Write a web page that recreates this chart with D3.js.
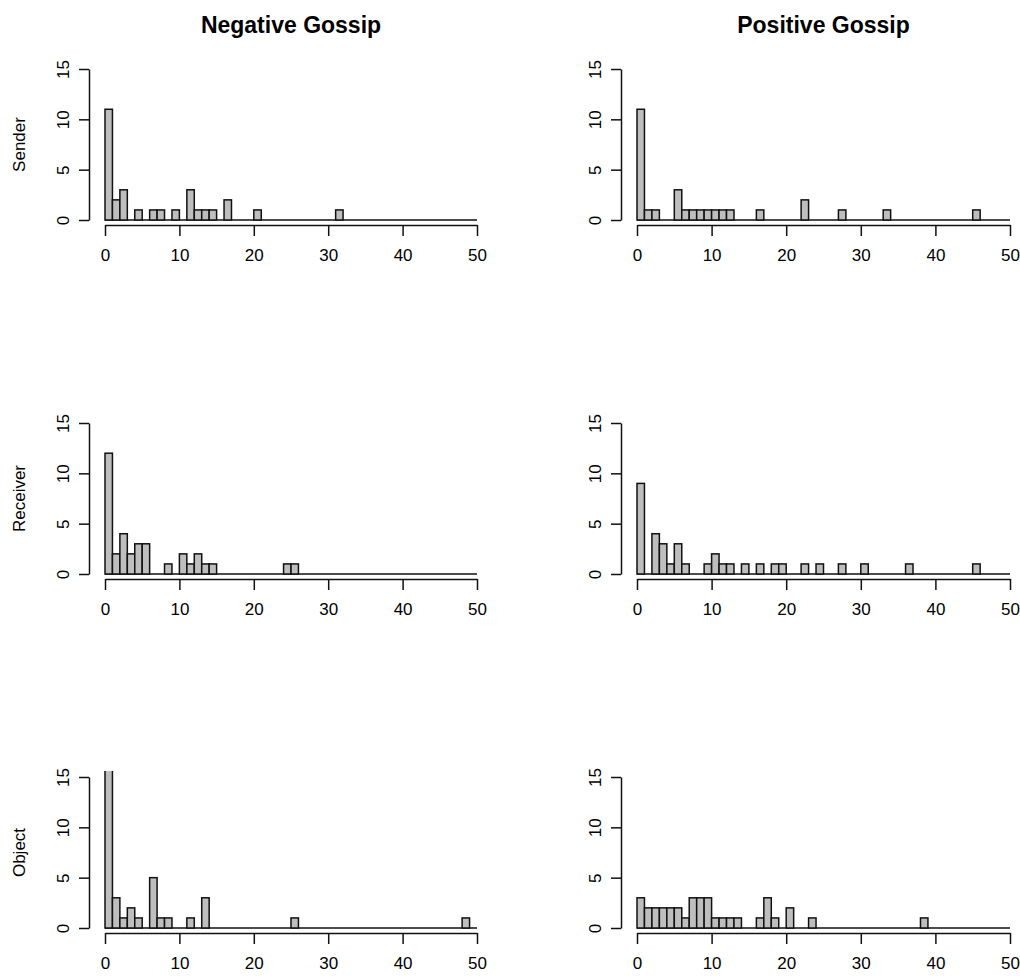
<!DOCTYPE html>
<html lang="en">
<head>
    <meta charset="UTF-8">
    <title>Gossip histograms</title>
    <script src="https://cdn.jsdelivr.net/npm/d3@7"></script>
    <style>
        body { margin: 0; background: #fff; }
        text { font-family: "Liberation Sans", Arial, sans-serif; fill: #000; }
    </style>
</head>
<body>
<script>
    // column titles, row labels, ticks
    var columns = ["Negative Gossip", "Positive Gossip"];
    var rows = ["Sender", "Receiver", "Object"];
    var xTicks = [0, 10, 20, 30, 40, 50];
    var yTicks = [0, 5, 10, 15];

    // histogram counts: bin start (width 1) and count
    var negSenderBins = [0, 1, 2, 4, 6, 7, 9, 11, 12, 13, 14, 16, 20, 31];
    var negSenderCounts = [11, 2, 3, 1, 1, 1, 1, 3, 1, 1, 1, 2, 1, 1];
    var posSenderBins = [0, 1, 2, 5, 6, 7, 8, 9, 10, 11, 12, 16, 22, 27, 33, 45];
    var posSenderCounts = [11, 1, 1, 3, 1, 1, 1, 1, 1, 1, 1, 1, 2, 1, 1, 1];
    var negReceiverBins = [0, 1, 2, 3, 4, 5, 8, 10, 11, 12, 13, 14, 24, 25];
    var negReceiverCounts = [12, 2, 4, 2, 3, 3, 1, 2, 1, 2, 1, 1, 1, 1];
    var posReceiverBins = [0, 2, 3, 4, 5, 6, 9, 10, 11, 12, 14, 16, 18, 19, 22, 24, 27, 30, 36, 45];
    var posReceiverCounts = [9, 4, 3, 1, 3, 1, 1, 2, 1, 1, 1, 1, 1, 1, 1, 1, 1, 1, 1, 1];
    var negObjectBins = [0, 1, 2, 3, 4, 6, 7, 8, 11, 13, 25, 48];
    var negObjectCounts = [19, 3, 1, 2, 1, 5, 1, 1, 1, 3, 1, 1];
    var posObjectBins = [0, 1, 2, 3, 4, 5, 6, 7, 8, 9, 10, 11, 12, 13, 16, 17, 18, 20, 23, 38];
    var posObjectCounts = [3, 2, 2, 2, 2, 2, 1, 3, 3, 3, 1, 1, 1, 1, 1, 3, 1, 2, 1, 1];

    var panels = [
        [negSenderBins, negSenderCounts], [posSenderBins, posSenderCounts],
        [negReceiverBins, negReceiverCounts], [posReceiverBins, posReceiverCounts],
        [negObjectBins, negObjectCounts], [posObjectBins, posObjectCounts]
    ];

    var width = 1020, height = 976;
    var svg = d3.select("body").append("svg")
        .attr("width", width)
        .attr("height", height);

    // pixel layout of each column / row
    var colX = [[105, 477], [637, 1010]];
    var rowY = [[220, 69], [574, 423], [928, 777]];

    panels.forEach(function(p, i) {
        var col = i % 2, row = Math.floor(i / 2);
        var x = d3.scaleLinear().domain([0, 50]).range(colX[col]);
        var y = d3.scaleLinear().domain([0, 15]).range(rowY[row]);
        var g = svg.append("g");

        var clipId = "clip" + i;
        svg.append("clipPath").attr("id", clipId)
            .append("rect")
            .attr("x", x(-2)).attr("y", y(15.6))
            .attr("width", x(52) - x(-2))
            .attr("height", y(-0.6) - y(15.6));

        var bars = g.append("g").attr("clip-path", "url(#" + clipId + ")");
        // empty bins drawn as a flat line
        bars.append("line")
            .attr("x1", x(0)).attr("x2", x(50))
            .attr("y1", y(0)).attr("y2", y(0))
            .attr("stroke", "#111").attr("stroke-width", 1.5);
        var data = p[0].map(function(b, k) { return {b: b, n: p[1][k]}; });
        bars.selectAll("rect").data(data).enter().append("rect")
            .attr("x", function(d) { return x(d.b); })
            .attr("y", function(d) { return y(d.n); })
            .attr("width", function(d) { return x(d.b + 1) - x(d.b); })
            .attr("height", function(d) { return y(0) - y(d.n); })
            .attr("fill", "#bebebe")
            .attr("stroke", "#111")
            .attr("stroke-width", 1.5);

        // x axis
        var xa = g.append("g")
            .attr("transform", "translate(0," + (y(0) + 5) + ")")
            .call(d3.axisBottom(x).tickValues(xTicks).tickSize(11).tickSizeOuter(0));
        xa.selectAll("text")
            .attr("y", 30).attr("dy", "0.35em")
            .style("font-size", "17px");

        // y axis
        var ya = g.append("g")
            .attr("transform", "translate(" + (x(0) - 16) + ",0)")
            .call(d3.axisLeft(y).tickValues(yTicks).tickSize(10).tickSizeOuter(0));
        ya.selectAll("text")
            .attr("transform", "rotate(-90)")
            .attr("x", 0).attr("y", -26).attr("dy", "0.35em")
            .attr("text-anchor", "middle")
            .style("font-size", "17px");

        [xa, ya].forEach(function(a) {
            a.selectAll("path,line").attr("stroke", "#111").attr("stroke-width", 1.5);
            a.select(".domain").attr("fill", "none");
        });

        if (col === 0) {
            svg.append("text")
                .attr("transform", "translate(25," + y(7.5) + ") rotate(-90)")
                .attr("text-anchor", "middle")
                .style("font-size", "17px")
                .text(rows[row]);
        }
        if (row === 0) {
            svg.append("text")
                .attr("x", (x(-2) + x(52)) / 2)
                .attr("y", 33)
                .attr("text-anchor", "middle")
                .style("font-size", "23px")
                .style("font-weight", "bold")
                .text(columns[col]);
        }
    });
</script>
</body>
</html>
